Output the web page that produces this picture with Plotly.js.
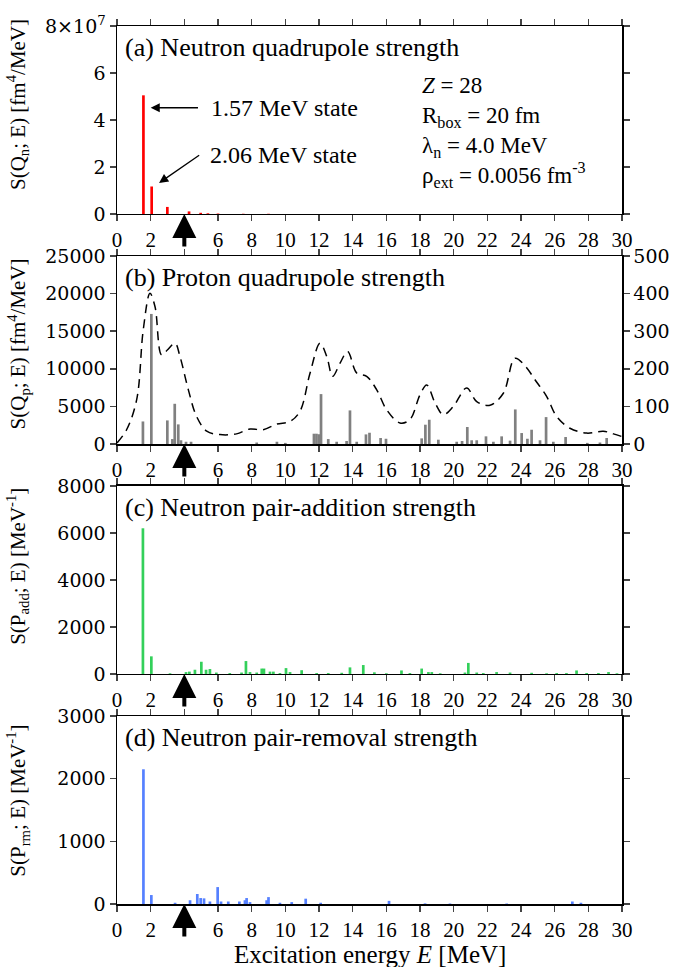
<!DOCTYPE html>
<html>
<head>
<meta charset="utf-8">
<script src="https://cdn.plot.ly/plotly-3.0.1.min.js"></script>
<style>html,body{margin:0;padding:0;background:#fff;}#chart{width:683px;height:967px;}</style>
</head>
<body>
<div id="chart"></div>
<script>
// Panel (a): neutron quadrupole strength [fm^4/MeV]
const qnEnergy = [1.57, 2.06, 2.99, 4.28, 4.97, 5.4, 6.0, 7.5, 9.0];
const qnStrength = [5.05e7, 1.17e7, 0.30e7, 0.11e7, 0.05e7, 0.03e7, 0.02e7, 0.01e7, 0.01e7];

// Panel (b): proton quadrupole strength (bars, left axis)
const qpEnergy = [1.54, 2.04, 2.99, 3.29, 3.43, 3.64, 3.8, 4.1, 4.4, 8.3, 9.5, 10.0, 11.7, 11.85, 12.0, 12.12, 12.55, 13.05, 13.64, 13.84, 14.24, 14.79, 15.0, 15.66, 15.98, 18.1, 18.32, 18.55, 19.09, 20.18, 20.5, 20.81, 21.07, 21.37, 21.92, 22.36, 22.85, 23.35, 23.66, 24.04, 24.38, 24.63, 25.13, 25.49, 25.92, 26.65, 27.94, 28.69, 29.09];
const qpStrength = [3000, 17300, 3140, 660, 5350, 2610, 500, 300, 300, 200, 300, 150, 1370, 1370, 1300, 6640, 660, 300, 400, 4470, 300, 1280, 1500, 800, 700, 750, 2570, 3230, 575, 300, 400, 2260, 500, 500, 1020, 300, 1020, 450, 4600, 1460, 700, 1900, 500, 3580, 300, 930, 150, 200, 800];
// Panel (b): smeared strength (dashed, right axis)
const qpSmearE = [0, 0.57, 1.17, 1.56, 1.96, 2.26, 2.65, 2.99, 3.45, 3.74, 4.24, 4.73, 5.33, 6.12, 7.1, 7.9, 8.69, 9.49, 10.28, 10.87, 11.47, 12.06, 12.46, 12.81, 13.25, 13.7, 14.24, 14.83, 15.43, 16.02, 16.81, 17.4, 18.0, 18.4, 18.9, 19.39, 19.98, 20.77, 21.37, 22.16, 22.95, 23.64, 24.24, 24.83, 25.52, 26.12, 26.91, 27.9, 28.89, 29.49, 29.98];
const qpSmearS = [3, 38, 118, 304, 401, 365, 237, 250, 268, 233, 144, 73, 34, 25, 27, 40, 38, 53, 60, 87, 189, 268, 233, 180, 215, 246, 189, 180, 144, 91, 56, 65, 131, 157, 109, 78, 100, 149, 113, 103, 135, 228, 208, 171, 127, 73, 42, 29, 34, 27, 20];

// Panel (c): neutron pair-addition strength [MeV^-1]
const paEnergy = [1.54, 2.04, 3.15, 4.1, 4.3, 4.63, 5.01, 5.29, 5.52, 5.9, 6.7, 7.4, 7.66, 7.9, 8.3, 8.6, 8.73, 9.09, 9.29, 9.68, 10.04, 10.28, 10.97, 11.86, 12.55, 13.35, 13.84, 14.63, 15.29, 16.0, 16.9, 17.4, 18.1, 18.5, 18.7, 19.2, 20.67, 20.87, 21.37, 21.76, 22.55, 23.35, 24.63, 25.52, 26.12, 26.7, 27.3, 27.9, 28.6, 29.2, 29.7];
const paStrength = [6200, 750, 30, 80, 100, 180, 520, 180, 210, 60, 40, 60, 550, 80, 60, 230, 230, 100, 100, 40, 250, 80, 160, 40, 40, 50, 280, 380, 70, 30, 150, 40, 230, 80, 80, 30, 60, 470, 60, 40, 80, 60, 50, 30, 40, 40, 150, 40, 40, 80, 30];

// Panel (d): neutron pair-removal strength [MeV^-1]
const prEnergy = [1.57, 2.04, 3.45, 4.34, 4.77, 4.97, 5.17, 5.52, 5.98, 6.18, 6.61, 7.27, 7.6, 7.7, 7.9, 8.89, 9.0, 9.68, 10.38, 11.21, 12.1, 16.16, 18.3, 19.78, 23.15, 27.05, 27.56];
const prStrength = [2150, 143, 20, 60, 160, 95, 90, 40, 270, 40, 40, 40, 60, 95, 30, 60, 110, 20, 30, 85, 20, 50, 10, 8, 8, 40, 20];

const xTickVals = [0, 2, 4, 6, 8, 10, 12, 14, 16, 18, 20, 22, 24, 26, 28, 30];
const xTickText = ['0', '2', '', '6', '8', '10', '12', '14', '16', '18', '20', '22', '24', '26', '28', '30'];

const FONT = '"Liberation Serif", "Times New Roman", Times, serif';
const YFONT = '"DejaVu Serif", serif';
const barW = 0.16;

const traces = [
  {type: 'bar', x: qnEnergy, y: qnStrength, width: barW, marker: {color: '#ff0000', line: {width: 0}}, xaxis: 'x', yaxis: 'y'},
  {type: 'bar', x: qpEnergy, y: qpStrength, width: barW, marker: {color: '#808080', line: {width: 0}}, xaxis: 'x2', yaxis: 'y2'},
  {type: 'scatter', mode: 'lines', x: qpSmearE, y: qpSmearS, line: {color: '#000', width: 1.5, dash: '9px,6px', shape: 'spline'}, xaxis: 'x2', yaxis: 'y5'},
  {type: 'bar', x: paEnergy, y: paStrength, width: barW, marker: {color: '#33d05a', line: {width: 0}}, xaxis: 'x3', yaxis: 'y3'},
  {type: 'bar', x: prEnergy, y: prStrength, width: barW, marker: {color: '#5580ff', line: {width: 0}}, xaxis: 'x4', yaxis: 'y4'}
];

function xax(anchor) {
  return {
    anchor: anchor, range: [0, 30], tickmode: 'array', tickvals: xTickVals, ticktext: xTickText,
    ticks: 'outside', ticklen: 6, tickwidth: 1.5, showline: true, linewidth: 1.5, linecolor: '#000',
    mirror: 'ticks', showgrid: false, zeroline: false,
    tickfont: {family: FONT, size: 21, color: '#000'}
  };
}
function yax(anchor, domain, range, tickvals, ticktext, mirror) {
  const o = {
    anchor: anchor, domain: domain, range: range, tickmode: 'array', tickvals: tickvals,
    ticktext: ticktext || tickvals.map(v => String(v)),
    ticks: 'outside', ticklen: 6, tickwidth: 1.5, showline: true, linewidth: 1.5, linecolor: '#000',
    mirror: mirror, showgrid: false, zeroline: false,
    tickfont: {family: YFONT, size: 19, color: '#000'}
  };
  return o;
}

const dA = [0.7859, 1.0], dB = [0.5239, 0.7380], dC = [0.2620, 0.4761], dD = [0, 0.2141];

const layout = {
  width: 683, height: 967,
  margin: {l: 117, r: 61, t: 26, b: 63},
  paper_bgcolor: '#fff', plot_bgcolor: '#fff',
  showlegend: false, barmode: 'overlay',
  font: {family: FONT, color: '#000'},
  xaxis: xax('y'), xaxis2: xax('y2'), xaxis3: xax('y3'), xaxis4: xax('y4'),
  yaxis: yax('x', dA, [0, 8e7], [0, 2e7, 4e7, 6e7, 8e7], ['0', '2', '4', '6', '8×10<sup>7</sup>'], 'ticks'),
  yaxis2: yax('x2', dB, [0, 25000], [0, 5000, 10000, 15000, 20000, 25000], null, false),
  yaxis5: Object.assign(yax('x2', dB, [0, 500], [0, 100, 200, 300, 400, 500], null, false), {overlaying: 'y2', side: 'right'}),
  yaxis3: yax('x3', dC, [0, 8000], [0, 2000, 4000, 6000, 8000], null, 'ticks'),
  yaxis4: yax('x4', dD, [0, 3000], [0, 1000, 2000, 3000], null, 'ticks'),
  annotations: []
};

const A = layout.annotations;
const panels = [
  {xr: 'x', yr: 'y', label: '(a) Neutron quadrupole strength', title: 'S(Q<sub>n</sub>; E) [fm<sup>4</sup>/MeV]', tOff: 0.58},
  {xr: 'x2', yr: 'y2', label: '(b) Proton quadrupole strength', title: 'S(Q<sub>p</sub>; E) [fm<sup>4</sup>/MeV]', tOff: 0.53},
  {xr: 'x3', yr: 'y3', label: '(c) Neutron pair-addition strength', title: 'S(P<sub>add</sub>; E) [MeV<sup>-1</sup>]', tOff: 0.57},
  {xr: 'x4', yr: 'y4', label: '(d) Neutron pair-removal strength', title: 'S(P<sub>rm</sub>; E) [MeV<sup>-1</sup>]', tOff: 0.55}
];
panels.forEach(p => {
  A.push({xref: p.xr + ' domain', yref: p.yr + ' domain', x: 0.012, y: 0.885, xanchor: 'left', yanchor: 'middle',
    text: p.label, showarrow: false, font: {family: FONT, size: 26, color: '#000'}});
  A.push({xref: 'paper', yref: p.yr + ' domain', x: -0.196, y: p.tOff, xanchor: 'center', yanchor: 'middle',
    textangle: -90, text: p.title, showarrow: false, font: {family: FONT, size: 21, color: '#000'}});
  A.push({xref: p.xr, yref: p.yr, x: 4, y: 0, ax: 0, ay: 34, text: '', showarrow: true,
    arrowhead: 2, arrowsize: 1.2, arrowwidth: 4, arrowcolor: '#000'});
});

// Panel (a) state labels and info box
A.push({xref: 'x', yref: 'y', axref: 'x', ayref: 'y', x: 2.0, y: 4.52e7, ax: 4.9, ay: 4.52e7, text: '',
  showarrow: true, arrowhead: 2, arrowsize: 1.4, arrowwidth: 1.3, arrowcolor: '#000'});
A.push({xref: 'x', yref: 'y', x: 5.47, y: 4.52e7, xanchor: 'left', yanchor: 'middle', text: '1.57 MeV state',
  showarrow: false, font: {family: FONT, size: 24, color: '#000'}});
A.push({xref: 'x', yref: 'y', axref: 'x', ayref: 'y', x: 2.5, y: 1.32e7, ax: 4.97, ay: 2.54e7, text: '',
  showarrow: true, arrowhead: 2, arrowsize: 1.4, arrowwidth: 1.3, arrowcolor: '#000'});
A.push({xref: 'x', yref: 'y', x: 5.39, y: 2.52e7, xanchor: 'left', yanchor: 'middle', text: '2.06 MeV state',
  showarrow: false, font: {family: FONT, size: 24, color: '#000'}});

const infoLines = ['<i>Z</i> = 28', 'R<sub>box</sub> = 20 fm', 'λ<sub>n</sub> = 4.0 MeV', 'ρ<sub>ext</sub> = 0.0056 fm<sup>-3</sup>'];
A.push({xref: 'x', yref: 'y', x: 18.0, y: 3.5e7, xanchor: 'left', yanchor: 'middle', align: 'left',
  text: infoLines.join('<br>'), showarrow: false, font: {family: FONT, size: 23, color: '#000'}});

// x-axis title
A.push({xref: 'paper', yref: 'paper', x: 0.5, y: (904 - 954) / 878, xanchor: 'center', yanchor: 'middle',
  text: 'Excitation energy <i>E</i> [MeV]', showarrow: false, font: {family: FONT, size: 25, color: '#000'}});

Plotly.newPlot('chart', traces, layout, {staticPlot: true, displayModeBar: false});
</script>
</body>
</html>
